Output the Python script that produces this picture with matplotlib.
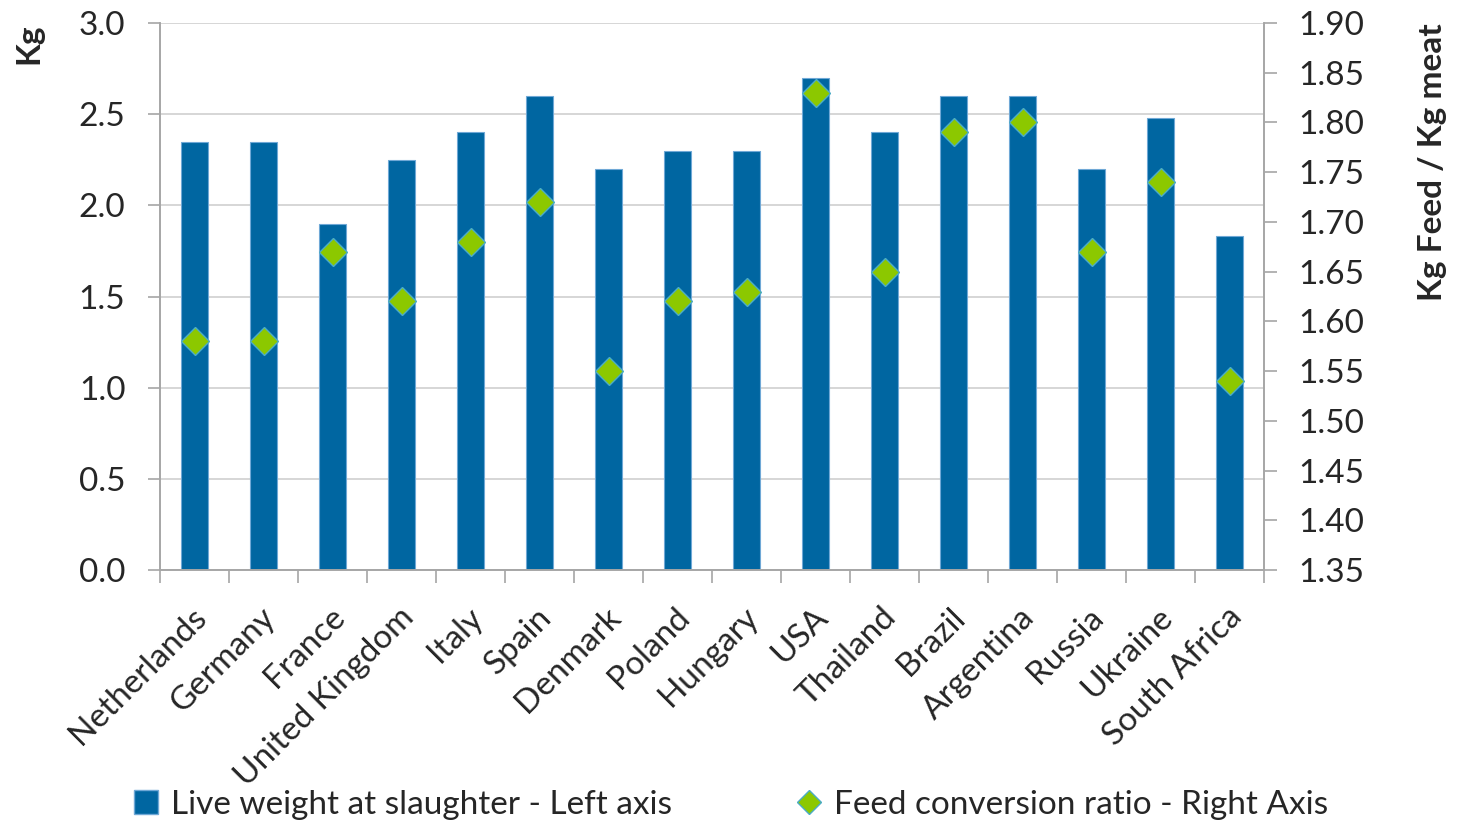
import numpy as np
import matplotlib
matplotlib.use("Agg")
from matplotlib import pyplot as plt
from matplotlib.lines import Line2D
from matplotlib.patches import Patch

plt.rcParams['font.family'] = ['Lato', 'DejaVu Sans']

countries = ["Netherlands", "Germany", "France", "United Kingdom", "Italy", "Spain",
             "Denmark", "Poland", "Hungary", "USA", "Thailand", "Brazil",
             "Argentina", "Russia", "Ukraine", "South Africa"]
live_weight = [2.35, 2.35, 1.90, 2.25, 2.40, 2.60, 2.20, 2.30, 2.30, 2.70,
               2.40, 2.60, 2.60, 2.20, 2.48, 1.83]
fcr = [1.58, 1.58, 1.67, 1.62, 1.68, 1.72, 1.55, 1.62, 1.63, 1.83,
       1.65, 1.79, 1.80, 1.67, 1.74, 1.54]
left_ticks = [0.0, 0.5, 1.0, 1.5, 2.0, 2.5, 3.0]
right_ticks = [1.35, 1.40, 1.45, 1.50, 1.55, 1.60, 1.65, 1.70, 1.75, 1.80, 1.85, 1.90]

bar_col = "#0066a1"
bar_edge = "#6fa8d6"
dia_col = "#8cc800"
dia_edge = "#4bacc6"
axis_col = "#a6a6a6"
grid_col = "#cfcfcf"
txt_col = "#262626"
fs = 24

fig = plt.figure(figsize=(14.59, 8.21), dpi=100)
ax = fig.add_axes([0.1097, 0.3057, 0.7567, 0.6663])
ax2 = ax.twinx()

x = np.arange(len(countries))
ax.bar(x, live_weight, width=0.4, color=bar_col, edgecolor=bar_edge, linewidth=0.8, zorder=2)
ax2.plot(x, fcr, linestyle="none", marker="D", markersize=14.5,
         markerfacecolor=dia_col, markeredgecolor=dia_edge, markeredgewidth=1.0, zorder=3)

ax.set_xlim(-0.5, len(countries) - 0.5)
ax.set_ylim(0, 3.0)
ax2.set_ylim(1.35, 1.90)
ax.set_yticks(left_ticks)
ax.set_yticklabels([f"{v:.1f}" for v in left_ticks])
ax2.set_yticks(right_ticks)
ax2.set_yticklabels([f"{v:.2f}" for v in right_ticks])

# category labels at centres, tick marks at boundaries
ax.set_xticks(x - 0.05)
ax.set_xticklabels(countries, rotation=45, ha="right", rotation_mode="anchor")
ax.set_xticks(np.arange(-0.5, len(countries)), minor=True)
ax.tick_params(axis="x", which="major", length=0, pad=23, labelsize=fs, labelcolor=txt_col)
ax.tick_params(axis="x", which="minor", length=9, width=1.2, color=axis_col)
ax.tick_params(axis="y", length=9, width=1.2, color=axis_col, labelsize=fs,
               labelcolor=txt_col, pad=16)
ax2.tick_params(axis="y", length=9, width=1.2, color=axis_col, labelsize=fs,
                labelcolor=txt_col, pad=16)

ax.yaxis.grid(True, color=grid_col, linewidth=1.2, zorder=0)
ax.set_axisbelow(True)
for a in (ax, ax2):
    a.spines["top"].set_visible(False)
    for s in ("left", "right", "bottom"):
        a.spines[s].set_color(axis_col)
        a.spines[s].set_linewidth(1.2)

ax.set_ylabel("Kg", fontsize=fs, fontweight="bold", color=txt_col, loc="top")
ax.yaxis.set_label_coords(-0.106, 1.0)
ax2.set_ylabel("Kg Feed / Kg meat", fontsize=fs, fontweight="bold", color=txt_col, loc="top")
ax2.yaxis.set_label_coords(1.139, 1.0)

handles = [Patch(facecolor=bar_col, edgecolor=bar_edge),
           Line2D([], [], linestyle="none", marker="D", markersize=12,
                  markerfacecolor=dia_col, markeredgecolor=dia_edge)]
fig.legend(handles, ["Live weight at slaughter - Left axis", "Feed conversion ratio - Right Axis"],
           loc="center left", bbox_to_anchor=(0.076, 0.020), ncol=2, frameon=False,
           fontsize=fs, labelcolor=txt_col, handlelength=0.7, handleheight=0.7,
           handletextpad=0.4, columnspacing=3.75, borderpad=0.2)

fig.savefig("out.png", dpi=100)
